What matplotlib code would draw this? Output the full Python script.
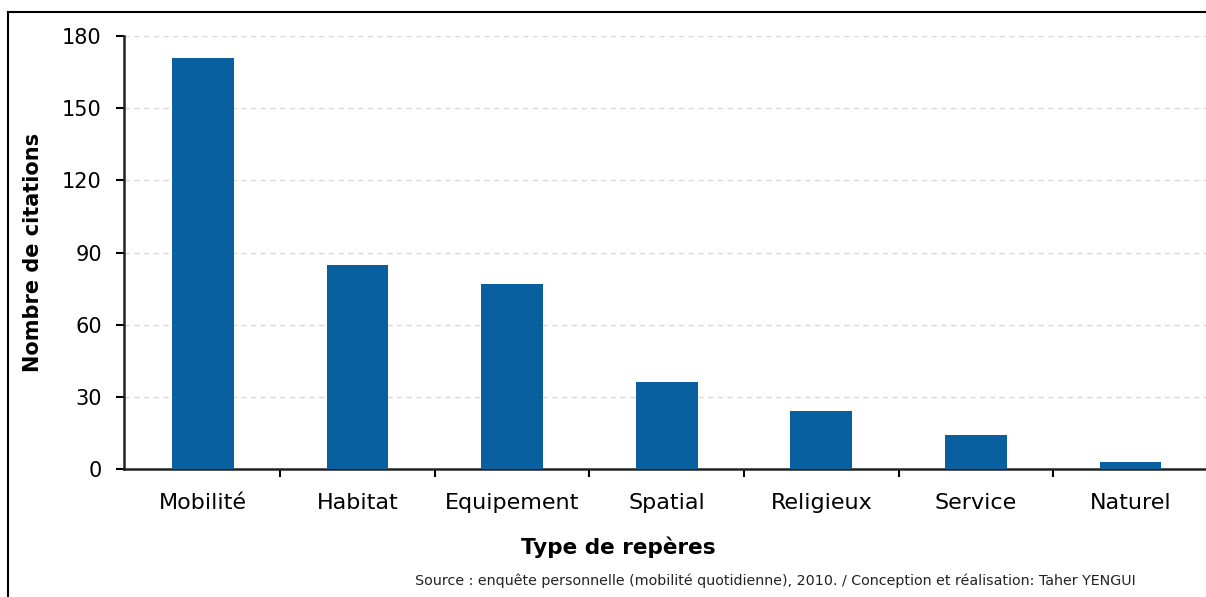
import matplotlib
matplotlib.use("Agg")
import matplotlib.pyplot as plt
from matplotlib.lines import Line2D

# Data
categories = ["Mobilité", "Habitat", "Equipement", "Spatial", "Religieux", "Service", "Naturel"]
citations = [171, 85, 77, 36, 24, 14, 3]
y_ticks = [0, 30, 60, 90, 120, 150, 180]

BAR_COLOR = "#0a5f9f"

fig = plt.figure(figsize=(12.06, 5.97), dpi=100)
ax = fig.add_axes([0.1028, 0.2144, 0.9, 0.7253])

x = list(range(len(categories)))
ax.bar(x, citations, width=0.4, color=BAR_COLOR, zorder=3)

ax.set_xlim(-0.51, len(categories) - 0.5 + 0.01)
ax.set_ylim(0, 180)
ax.set_yticks(y_ticks)
ax.tick_params(axis="y", labelsize=15, length=6, width=1.5, direction="out", pad=10)

# category labels centred, ticks between categories
ax.set_xticks([i + 0.5 for i in range(len(categories) - 1)])
ax.set_xticklabels([])
ax.set_xticks(x, minor=True)
ax.set_xticklabels(categories, minor=True, fontsize=16)
ax.tick_params(axis="x", which="major", length=6, width=1.5, direction="out")
ax.tick_params(axis="x", which="minor", length=0, pad=17)

ax.grid(axis="y", color="#d9d9d9", linestyle=(0, (4, 3)), linewidth=1, zorder=0)
for side in ["top", "right"]:
    ax.spines[side].set_visible(False)
for side in ["left", "bottom"]:
    ax.spines[side].set_linewidth(1.8)
    ax.spines[side].set_color("#222222")

ax.set_ylabel("Nombre de citations", fontsize=15, fontweight="bold", labelpad=14)
ax.set_xlabel("Type de repères", fontsize=15.5, fontweight="bold")
ax.xaxis.set_label_coords(0.455, -0.157)

fig.text(0.643, 0.028, "Source : enquête personnelle (mobilité quotidienne), 2010. / Conception et réalisation: Taher YENGUI",
         ha="center", va="center", fontsize=10.3, color="#222222")

# outer frame: only its top and left edges fall inside the picture
fx, fy = 8 / 1206, 1 - 12 / 597
fig.add_artist(Line2D([fx, 1.05], [fy, fy], transform=fig.transFigure, color="black", linewidth=1.5))
fig.add_artist(Line2D([fx, fx], [-0.05, fy], transform=fig.transFigure, color="black", linewidth=1.5))

fig.savefig("out.png", dpi=100)
